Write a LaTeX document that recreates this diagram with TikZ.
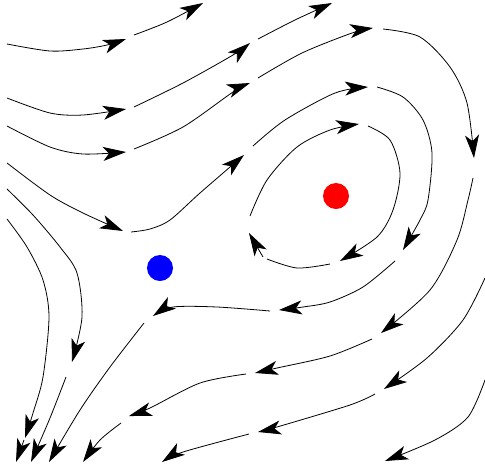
\documentclass[tikz,border=0pt]{standalone}
\usetikzlibrary{arrows.meta}
\tikzset{
  sl/.style={line width=0.8pt, black},
  arr/.style={sl, -{Stealth[length=23pt,width=14pt,inset=6pt]}},
  dot/.style={circle, inner sep=0pt, minimum size=26pt}
}
\begin{document}
\begin{tikzpicture}[x=1pt,y=-1pt]
\useasboundingbox (0,0) rectangle (485,467);
% --- streamline 1 (top)
\draw[arr] plot[smooth] coordinates {(7,44) (50,51) (83,49) (107,45) (126,39)};
\draw[arr] plot[smooth] coordinates {(134,35) (167,22) (203,3)};
% --- streamline 2
\draw[arr] plot[smooth] coordinates {(7,98) (50,113) (83,115) (126,109)};
\draw[arr] plot[smooth] coordinates {(134,107) (183,83) (233,55) (250,43)};
\draw[arr] plot[smooth] coordinates {(258,39) (295,20) (332,3)};
% --- streamline 3 (long)
\draw[arr] plot[smooth] coordinates {(7,126) (50,147) (83,154) (126,152)};
\draw[arr] plot[smooth] coordinates {(134,149) (183,127) (233,92) (250,83)};
\draw[arr] plot[smooth] coordinates {(258,78) (302,53) (352,33) (373,28)};
\draw[arr] plot[smooth] coordinates {(383,29) (420,37) (450,67) (467,103) (474,158)};
\draw[arr] plot[smooth] coordinates {(473,178) (468,200) (457,240) (430,290) (381,333)};
\draw[arr] plot[smooth] coordinates {(372,339) (330,356) (277,368) (255,373)};
\draw[arr] plot[smooth] coordinates {(246,374) (200,383) (150,408) (129,416)};
\draw[arr] plot[smooth] coordinates {(121,423) (100,440) (83,462)};
% --- streamline 4 (long, through saddle)
\draw[arr] plot[smooth] coordinates {(7,163) (50,195) (83,213) (123,231)};
\draw[arr] plot[smooth] coordinates {(131,232) (150,229) (170,220) (200,193) (244,155)};
\draw[arr] plot[smooth] coordinates {(253,146) (285,120) (335,93) (368,87)};
\draw[arr] plot[smooth] coordinates {(377,87) (403,97) (423,120) (432,153) (428,200) (420,220) (403,250)};
\draw[arr] plot[smooth] coordinates {(395,261) (363,287) (330,302) (303,307) (279,310)};
\draw[arr] plot[smooth] coordinates {(270,311) (217,307) (173,307) (153,316)};
\draw[arr] plot[smooth] coordinates {(144,323) (110,367) (80,410) (49,462)};
% --- inner loop
\draw[arr] plot[smooth] coordinates {(250,216) (267,180) (297,147) (330,130) (359,124)};
\draw[arr] plot[smooth] coordinates {(368,126) (390,140) (400,173) (393,210) (377,237) (340,261)};
\draw[sl] plot[smooth] coordinates {(330,264) (297,268) (267,259)};
\draw[arr] (263,257) -- (249,233);
% --- right streamlines
\draw[arr] plot[smooth] coordinates {(485,278) (463,320) (427,358) (384,389)};
\draw[arr] plot[smooth] coordinates {(375,394) (350,405) (277,427) (258,432)};
\draw[arr] plot[smooth] coordinates {(249,434) (183,452) (162,462)};
\draw[arr] plot[smooth] coordinates {(485,380) (468,417) (435,440) (385,461)};
% --- left streamlines
\draw[arr] plot[smooth] coordinates {(7,219) (27,247) (43,280) (49,317) (43,377) (33,413) (25,438)};
\draw[arr] (24,440) -- (16,462);
\draw[arr] plot[smooth] coordinates {(7,189) (33,215) (60,247) (77,273) (82,317) (72,362)};
\draw[arr] plot[smooth] coordinates {(66,377) (50,418) (31,462)};
% --- fixed points
\node[dot, fill=blue] (saddle) at (160,268) {};
\node[dot, fill=red] (center) at (336,196) {};
\end{tikzpicture}
\end{document}
